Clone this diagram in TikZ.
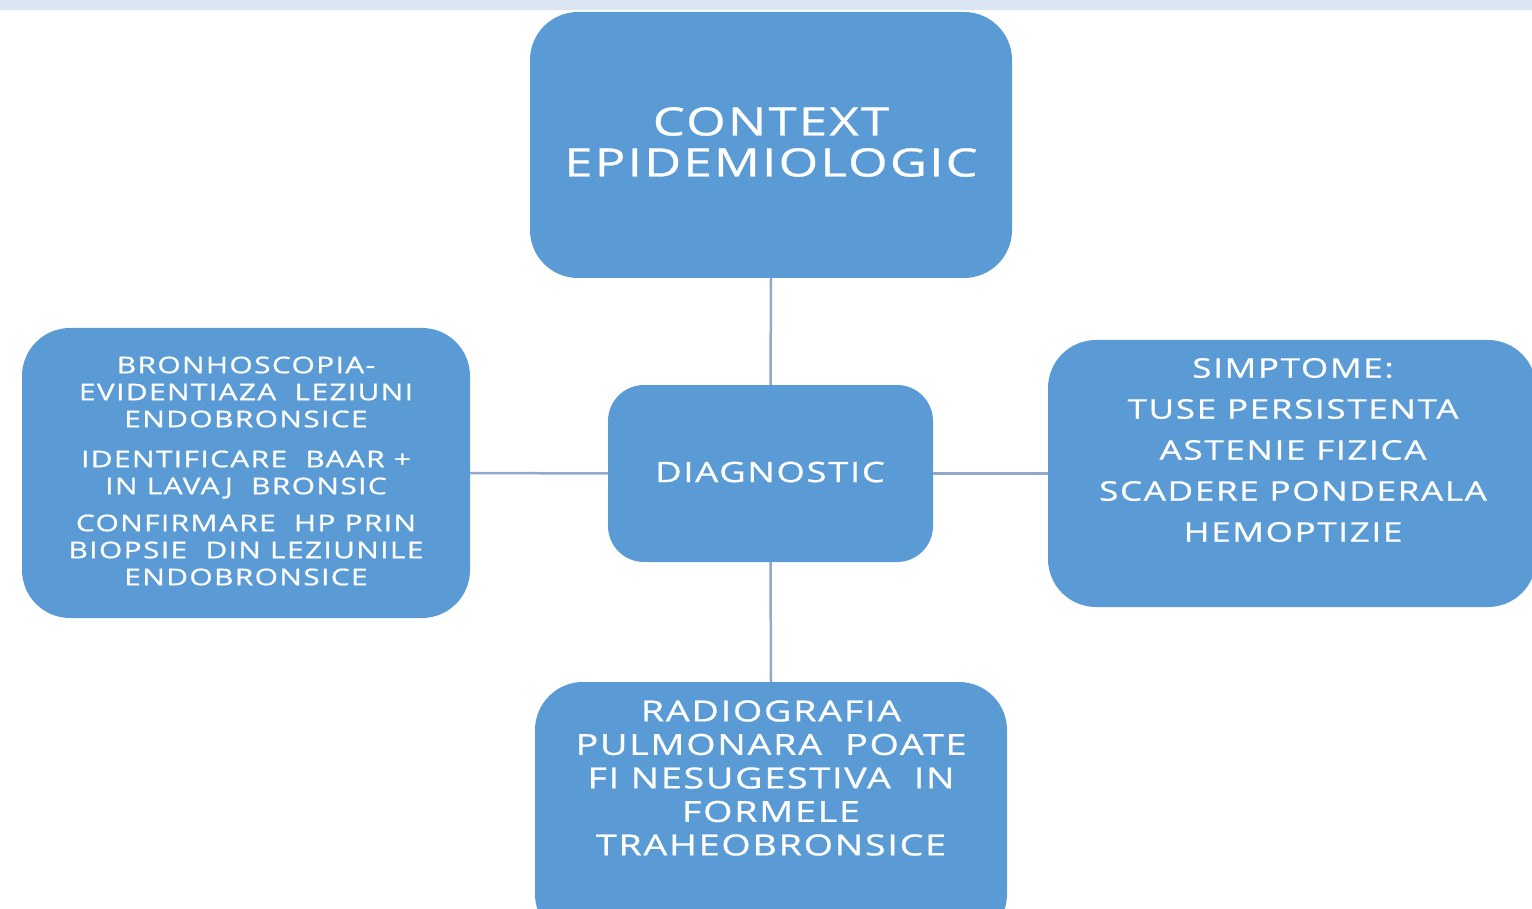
\documentclass[tikz,border=0pt]{standalone}
\usepackage{fontspec}
\setmainfont{Open Sans}[FakeStretch=1.3,LetterSpace=6,FakeBold=0.8]
\definecolor{boxblue}{HTML}{5B9BD5}
\definecolor{linecol}{HTML}{8FAACC}
\definecolor{bandcol}{HTML}{DCE6F2}
\begin{document}
\begin{tikzpicture}[x=1pt,y=-1pt,
  box/.style={draw=none,fill=boxblue,rectangle,inner sep=0pt},
  txt/.style={text=white,align=center,inner sep=0pt},
  conn/.style={draw=linecol,line width=2.5pt}]
\useasboundingbox (0,0) rectangle (1532,909);
\clip (0,0) rectangle (1532,909);
\fill[bandcol] (0,0) rectangle (1532,10);
% boxes
\node[box,rounded corners=48pt,minimum width=482pt,minimum height=266pt] (top) at (771,145) {};
\node[box,rounded corners=36pt,minimum width=325pt,minimum height=177pt] (mid) at (770.5,473.5) {};
\node[box,rounded corners=48pt,minimum width=448pt,minimum height=290pt] (left) at (246,473) {};
\node[box,rounded corners=48pt,minimum width=488pt,minimum height=267pt] (right) at (1292,473.5) {};
\node[box,rounded corners=48pt,minimum width=472pt,minimum height=260pt] (bot) at (771,812) {};
% connectors
\draw[conn] (top.south) -- (mid.north);
\draw[conn] (mid.south) -- (bot.north);
\draw[conn] (mid.west) -- (left.east);
\draw[conn] (mid.east) -- (right.west);
% texts
\node[txt,font=\fontsize{39}{41}\selectfont] (ttop) at (771,142) {CONTEXT\\EPIDEMIOLOGIC};
\node[txt,font=\fontsize{28}{30}\selectfont] (tmid) at (770,472) {DIAGNOSTIC};
\node[txt,font=\fontsize{23}{27}\selectfont] (tleft) at (246,471) {BRONHOSCOPIA-\\EVIDENTIAZA\ \ LEZIUNI\\ENDOBRONSICE\\[13pt]IDENTIFICARE\ \ BAAR +\\IN LAVAJ\ \ BRONSIC\\[10pt]CONFIRMARE\ \ HP PRIN\\BIOPSIE\ \ DIN LEZIUNILE\\ENDOBRONSICE};
\node[txt,font=\fontsize{27}{41}\selectfont] (tright) at (1293,450) {SIMPTOME:\\TUSE PERSISTENTA\\ASTENIE FIZICA\\SCADERE PONDERALA\\HEMOPTIZIE};
\node[txt,font=\fontsize{29}{33.5}\selectfont] (tbot) at (771,778) {RADIOGRAFIA\\PULMONARA\ \ POATE\\FI NESUGESTIVA\ \ IN\\FORMELE\\TRAHEOBRONSICE};
\end{tikzpicture}
\end{document}
